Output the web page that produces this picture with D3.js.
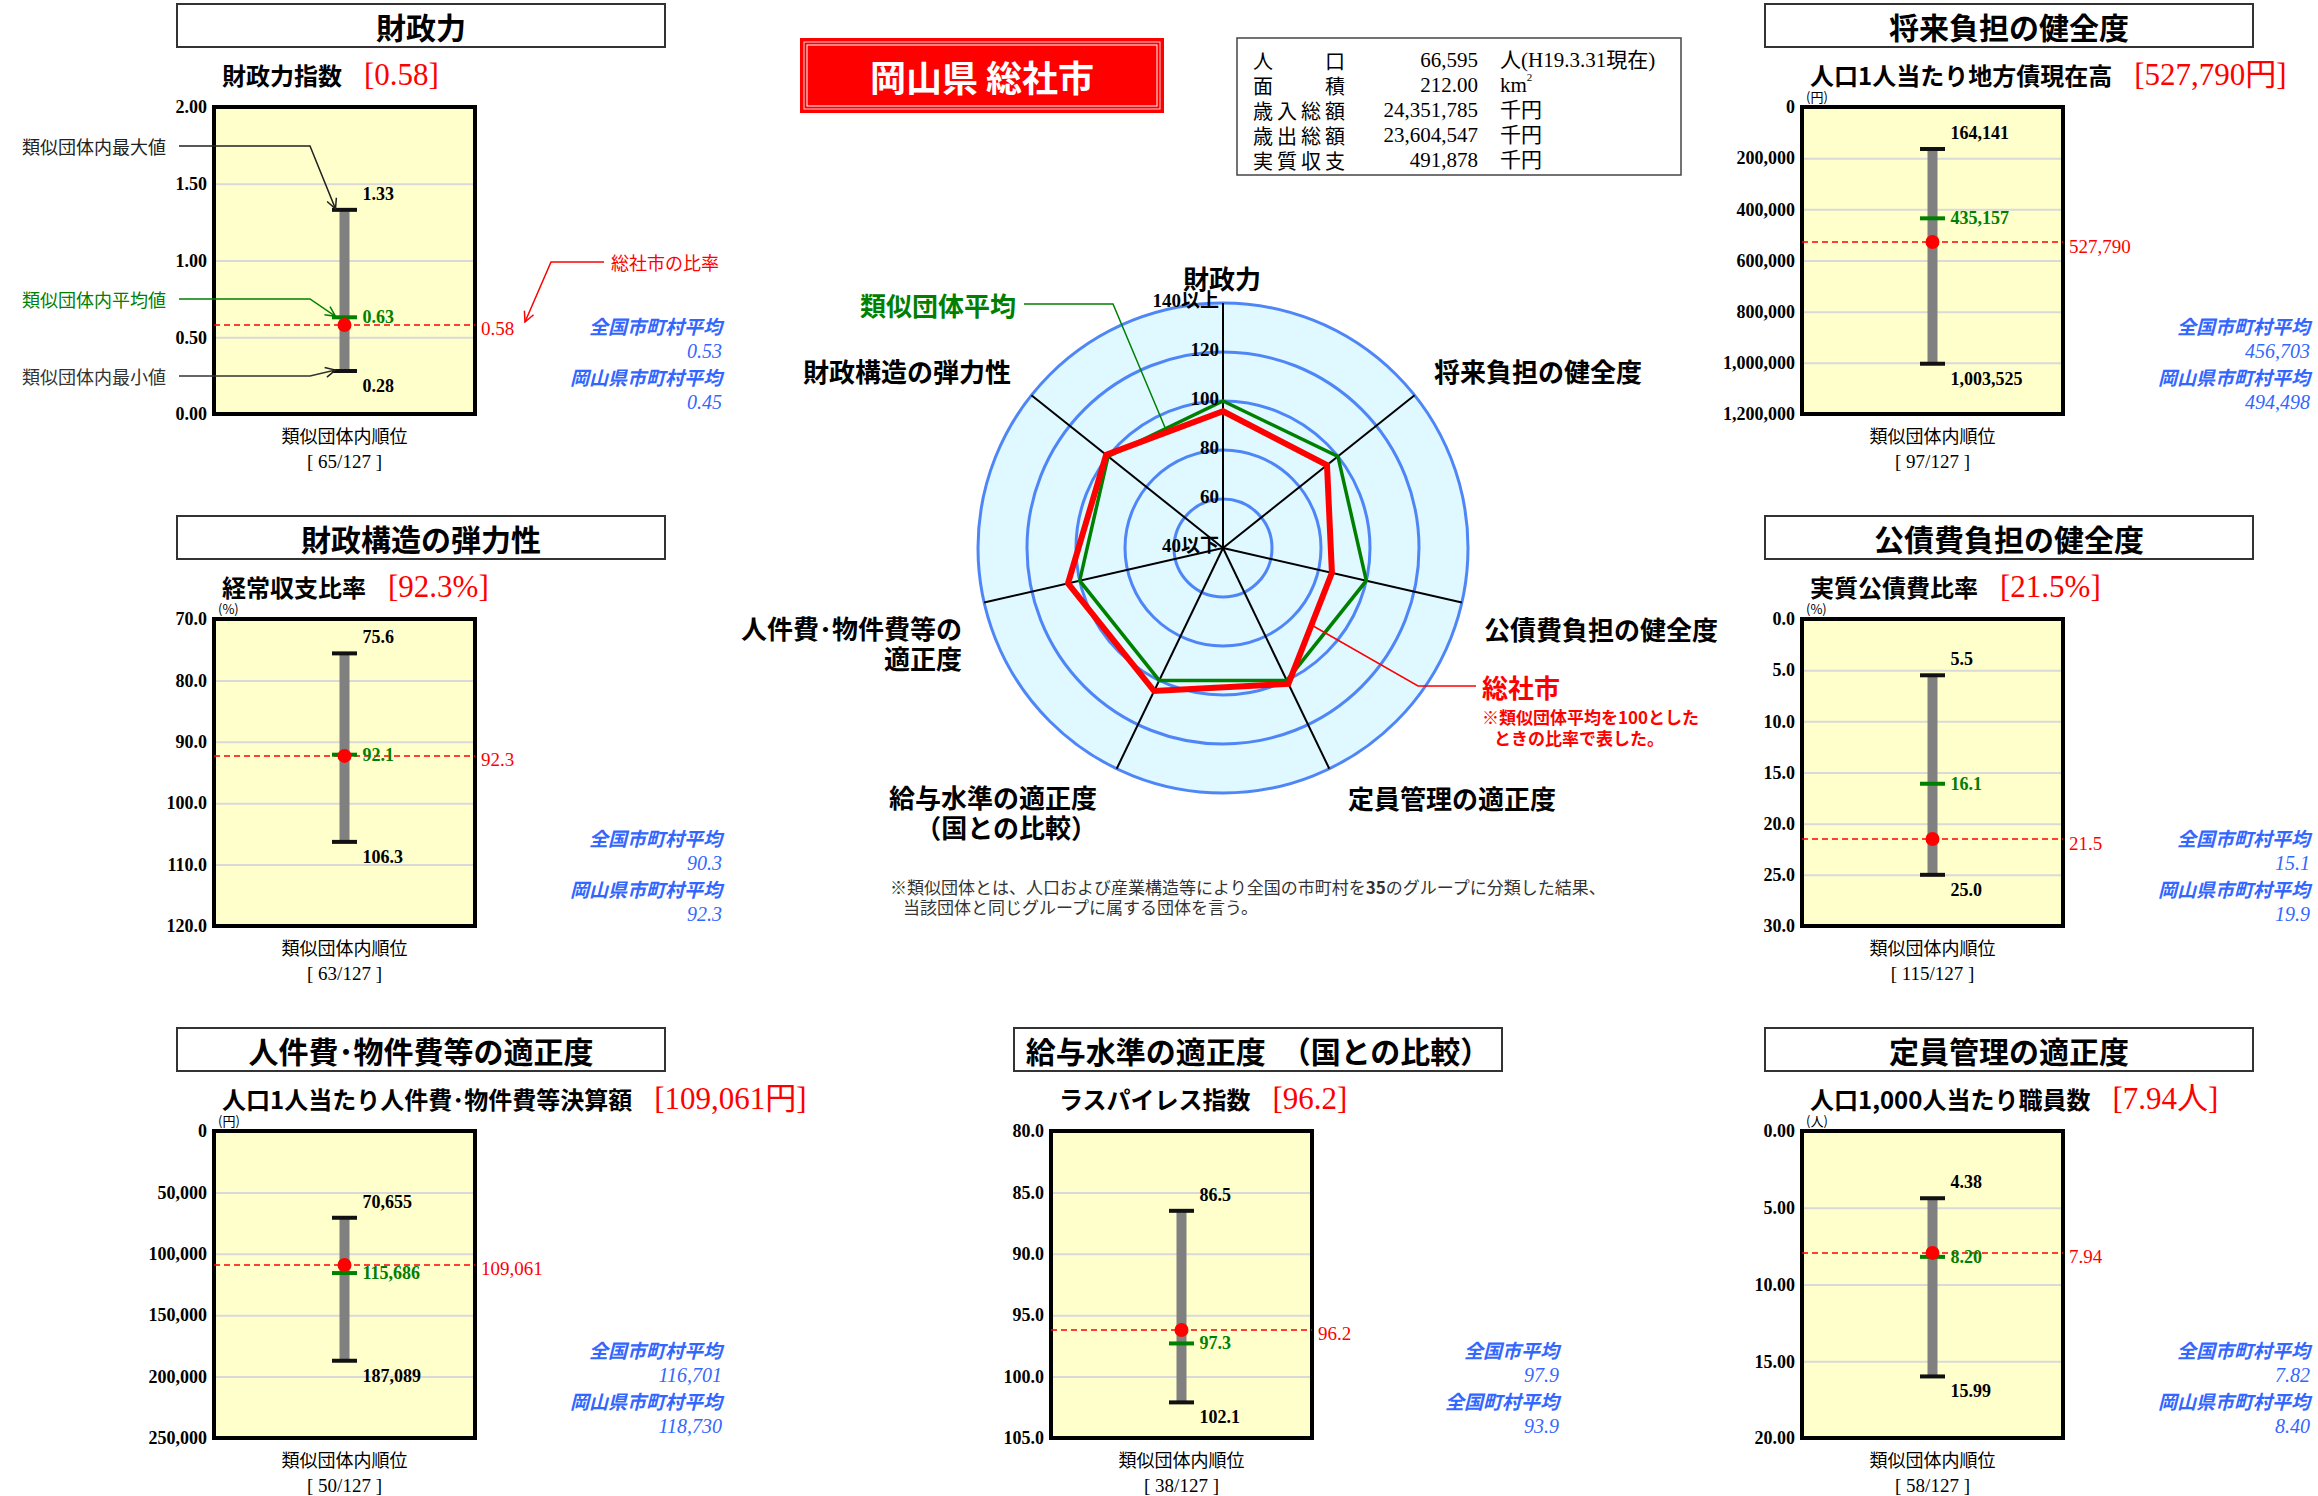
<!DOCTYPE html>
<html lang="ja">
<head>
<meta charset="UTF-8">
<title>岡山県 総社市 財政比較分析表</title>
<script src="https://d3js.org/d3.v7.min.js"></script>
<style>
  body { margin: 0; background: #fff; }
  svg { display: block; }
  .jp { font-family: "Noto Sans CJK JP", sans-serif; }
  .num { font-family: "Liberation Serif", "Noto Sans CJK JP", serif; }
</style>
</head>
<body>
<svg id="chart" width="2318" height="1496"></svg>
<script>
// ---- 各指標パネルのデータ ----
const panelTitles = ["財政力", "将来負担の健全度", "財政構造の弾力性", "公債費負担の健全度",
                     "人件費･物件費等の適正度", "給与水準の適正度　（国との比較）", "定員管理の適正度"];
const indicatorNames = ["財政力指数", "人口1人当たり地方債現在高", "経常収支比率", "実質公債費比率",
                        "人口1人当たり人件費･物件費等決算額", "ラスパイレス指数", "人口1,000人当たり職員数"];
const cityLabels = ["[0.58]", "[527,790円]", "[92.3%]", "[21.5%]", "[109,061円]", "[96.2]", "[7.94人]"];
const cityValues = [0.58, 527790, 92.3, 21.5, 109061, 96.2, 7.94];
const groupEndTop = [1.33, 164141, 75.6, 5.5, 70655, 86.5, 4.38];
const groupAvg = [0.63, 435157, 92.1, 16.1, 115686, 97.3, 8.20];
const groupEndBottom = [0.28, 1003525, 106.3, 25.0, 187089, 102.1, 15.99];
const axisDomains = [[2, 0], [0, 1200000], [70, 120], [0, 30], [0, 250000], [80, 105], [0, 20]];
const axisTicks = [
  [0, 0.5, 1, 1.5, 2],
  [0, 200000, 400000, 600000, 800000, 1000000, 1200000],
  [70, 80, 90, 100, 110, 120],
  [0, 5, 10, 15, 20, 25, 30],
  [0, 50000, 100000, 150000, 200000, 250000],
  [80, 85, 90, 95, 100, 105],
  [0, 5, 10, 15, 20]
];
const valueFormats = [".2f", ",", ".1f", ".1f", ",", ".1f", ".2f"];
const unitLabels = ["", "(円)", "(%)", "(%)", "(円)", "", "(人)"];
const rankings = ["65/127", "97/127", "63/127", "115/127", "50/127", "38/127", "58/127"];
const compareNames1 = ["全国市町村平均", "全国市町村平均", "全国市町村平均", "全国市町村平均", "全国市町村平均", "全国市平均", "全国市町村平均"];
const compareValues1 = ["0.53", "456,703", "90.3", "15.1", "116,701", "97.9", "7.82"];
const compareNames2 = ["岡山県市町村平均", "岡山県市町村平均", "岡山県市町村平均", "岡山県市町村平均", "岡山県市町村平均", "全国町村平均", "岡山県市町村平均"];
const compareValues2 = ["0.45", "494,498", "92.3", "19.9", "118,730", "93.9", "8.40"];

// ---- レーダーチャートのデータ ----
const radarAxes = [["財政力"], ["将来負担の健全度"], ["公債費負担の健全度"], ["定員管理の適正度"],
                   ["給与水準の適正度", "（国との比較）"], ["人件費･物件費等の", "適正度"], ["財政構造の弾力性"]];
const radarGroup = [100, 100, 100, 100, 100, 100, 100];
const radarCity = [95.8, 94.3, 85.6, 101.5, 104.8, 104.9, 101.0];
const radarTicks = [40, 60, 80, 100, 120, 140];
const radarTickLabels = ["40以下", "60", "80", "100", "120", "140以上"];

// ---- 基本情報 ----
const infoLabels = ["人　　口", "面　　積", "歳入総額", "歳出総額", "実質収支"];
const infoValues = ["66,595", "212.00", "24,351,785", "23,604,547", "491,878"];
const infoUnits = ["人(H19.3.31現在)", "km", "千円", "千円", "千円"];

const svg = d3.select("#chart");
const BLUE = "#3366ff", GREEN = "#008000", RED = "#ff0000";

// 矢印マーカー
const defs = svg.append("defs");
[["black", "#222"], ["green", GREEN], ["red", RED]].forEach(([id, c]) => {
  defs.append("marker")
    .attr("id", "arrow-" + id)
    .attr("viewBox", "0 0 12 12")
    .attr("refX", 11).attr("refY", 6)
    .attr("markerWidth", 12).attr("markerHeight", 12)
    .attr("markerUnits", "userSpaceOnUse")
    .attr("orient", "auto")
    .append("path")
    .attr("d", "M1,1 L11,6 L1,11")
    .attr("fill", "none").attr("stroke", c).attr("stroke-width", 1.5);
});

// ---- 各指標パネル ----
const W = 261, H = 307;
const panelLeft = [214, 1802, 214, 1802, 214, 1051, 1802];
const panelTop = [107, 107, 619, 619, 1131, 1131, 1131];

panelTitles.forEach((title, i) => {
  const x0 = panelLeft[i], y0 = panelTop[i];
  const g = svg.append("g").attr("transform", `translate(${x0},${y0})`);
  const y = d3.scaleLinear().domain(axisDomains[i]).range([0, H]);
  const fmt = d3.format(valueFormats[i]);
  const cx = W / 2;

  // 見出しボックス
  g.append("rect")
    .attr("x", -37).attr("y", -103).attr("width", 488).attr("height", 43)
    .attr("fill", "#fff").attr("stroke", "#333").attr("stroke-width", 2);
  g.append("text").attr("class", "jp")
    .attr("x", 207).attr("y", -81).attr("text-anchor", "middle")
    .attr("dominant-baseline", "central")
    .attr("font-size", 30).attr("font-weight", 700)
    .text(title);

  // 指標名と値
  const sub = g.append("text").attr("class", "jp")
    .attr("x", 8).attr("y", -33).attr("dominant-baseline", "central")
    .attr("font-size", 24).attr("font-weight", 700)
    .text(indicatorNames[i]);
  const subW = sub.node().getComputedTextLength();
  g.append("text").attr("class", "num")
    .attr("x", 8 + subW + 22).attr("y", -33).attr("dominant-baseline", "central")
    .attr("font-size", 31).attr("fill", RED)
    .text(cityLabels[i]);

  if (unitLabels[i]) {
    g.append("text").attr("class", "jp")
      .attr("x", 4).attr("y", -5).attr("font-size", 13)
      .text(unitLabels[i]);
  }

  // プロット背景
  g.append("rect").attr("width", W).attr("height", H).attr("fill", "#ffffcc");

  // グリッド線
  const inner = axisTicks[i].slice(1, -1);
  const grid = g.append("g")
    .call(d3.axisLeft(y).tickValues(inner).tickSize(-W).tickFormat(""));
  grid.select(".domain").remove();
  grid.selectAll("line").attr("stroke", "#d9d9d9").attr("stroke-width", 2);

  // 目盛ラベル
  const ax = g.append("g")
    .call(d3.axisLeft(y).tickValues(axisTicks[i]).tickSize(0).tickPadding(7)
      .tickFormat(d3.format(valueFormats[i])));
  ax.select(".domain").remove();
  ax.attr("font-family", "Liberation Serif, serif").attr("font-size", 18)
    .attr("font-weight", 700);
  ax.selectAll("text").attr("fill", "#000");

  // 枠
  g.append("rect").attr("width", W).attr("height", H)
    .attr("fill", "none").attr("stroke", "#000").attr("stroke-width", 4);

  // 当該団体の値（破線）
  const yc = y(cityValues[i]);
  g.append("line")
    .attr("x1", 0).attr("x2", W).attr("y1", yc).attr("y2", yc)
    .attr("stroke", RED).attr("stroke-width", 1.5).attr("stroke-dasharray", "6,4");
  g.append("text").attr("class", "num")
    .attr("x", W + 6).attr("y", yc + 4).attr("dominant-baseline", "central")
    .attr("font-size", 19).attr("fill", RED)
    .text(fmt(cityValues[i]));

  // 類似団体の範囲
  const yA = y(groupEndTop[i]), yB = y(groupEndBottom[i]);
  g.append("line")
    .attr("x1", cx).attr("x2", cx).attr("y1", yA).attr("y2", yB)
    .attr("stroke", "#808080").attr("stroke-width", 10);
  [yA, yB].forEach(v => {
    g.append("line")
      .attr("x1", cx - 12.5).attr("x2", cx + 12.5).attr("y1", v).attr("y2", v)
      .attr("stroke", "#111").attr("stroke-width", 4);
  });
  g.append("text").attr("class", "num")
    .attr("x", cx + 18).attr("y", Math.min(yA, yB) - 16).attr("dominant-baseline", "central")
    .attr("font-size", 18).attr("font-weight", 700)
    .text(fmt(yA < yB ? groupEndTop[i] : groupEndBottom[i]));
  g.append("text").attr("class", "num")
    .attr("x", cx + 18).attr("y", Math.max(yA, yB) + 15).attr("dominant-baseline", "central")
    .attr("font-size", 18).attr("font-weight", 700)
    .text(fmt(yA < yB ? groupEndBottom[i] : groupEndTop[i]));

  // 類似団体平均
  const ya = y(groupAvg[i]);
  g.append("line")
    .attr("x1", cx - 12.5).attr("x2", cx + 12.5).attr("y1", ya).attr("y2", ya)
    .attr("stroke", GREEN).attr("stroke-width", 4);
  g.append("text").attr("class", "num")
    .attr("x", cx + 18).attr("y", ya).attr("dominant-baseline", "central")
    .attr("font-size", 18).attr("font-weight", 700).attr("fill", GREEN)
    .text(fmt(groupAvg[i]));

  // 当該団体の点
  g.append("circle").attr("cx", cx).attr("cy", yc).attr("r", 7).attr("fill", RED);

  // 順位
  g.append("text").attr("class", "jp")
    .attr("x", cx).attr("y", H + 21).attr("text-anchor", "middle")
    .attr("dominant-baseline", "central").attr("font-size", 18)
    .text("類似団体内順位");
  g.append("text").attr("class", "num")
    .attr("x", cx).attr("y", H + 47).attr("text-anchor", "middle")
    .attr("dominant-baseline", "central").attr("font-size", 19)
    .text(`[ ${rankings[i]} ]`);

  // 全国・県平均
  const bx = 508;
  [[compareNames1[i], true], [compareValues1[i], false], [compareNames2[i], true], [compareValues2[i], false]]
    .forEach(([t, isName], k) => {
      g.append("text").attr("class", isName ? "jp" : "num")
        .attr("x", bx).attr("y", 218 + k * 25.5).attr("text-anchor", "end")
        .attr("dominant-baseline", "central")
        .attr("font-size", isName ? 19 : 20).attr("font-style", "italic")
        .attr("font-weight", isName ? 700 : 400)
        .attr("fill", BLUE)
        .text(t);
    });

  // 凡例の注記（財政力パネルのみ）
  if (i === 0) {
    const tipX = x0 + cx - 9;
    const notes = [
      ["類似団体内最大値", 146, y0 + yA, "#222", "black"],
      ["類似団体内平均値", 299, y0 + ya, GREEN, "green"],
      ["類似団体内最小値", 376, y0 + yB, "#333", "black"]
    ];
    notes.forEach(([t, ty, tipY, c, m]) => {
      svg.append("text").attr("class", "jp")
        .attr("x", 22).attr("y", ty).attr("dominant-baseline", "central")
        .attr("font-size", 18).attr("fill", c).text(t);
      svg.append("polyline")
        .attr("points", `179,${ty} 310,${ty} ${tipX},${tipY - 1}`)
        .attr("fill", "none").attr("stroke", c).attr("stroke-width", 1.5)
        .attr("marker-end", `url(#arrow-${m})`);
    });
    svg.append("text").attr("class", "jp")
      .attr("x", 611).attr("y", 262).attr("dominant-baseline", "central")
      .attr("font-size", 18).attr("fill", RED).text("総社市の比率");
    svg.append("polyline")
      .attr("points", `604,262 551,262 525,${y0 + yc - 3}`)
      .attr("fill", "none").attr("stroke", RED).attr("stroke-width", 1.5)
      .attr("marker-end", "url(#arrow-red)");
  }
});

// ---- 団体名 ----
const tb = svg.append("g").attr("transform", "translate(800,38)");
tb.append("rect").attr("width", 364).attr("height", 75).attr("fill", RED);
tb.append("rect").attr("x", 4).attr("y", 4).attr("width", 356).attr("height", 67)
  .attr("fill", "none").attr("stroke", "#ffd0d0").attr("stroke-width", 1);
tb.append("rect").attr("x", 7).attr("y", 7).attr("width", 350).attr("height", 61)
  .attr("fill", "none").attr("stroke", "#fff").attr("stroke-width", 1);
tb.append("text").attr("class", "jp")
  .attr("x", 182).attr("y", 38).attr("text-anchor", "middle")
  .attr("dominant-baseline", "central")
  .attr("font-size", 36).attr("font-weight", 700).attr("fill", "#fff")
  .text("岡山県 総社市");

// ---- 基本情報 ----
const ib = svg.append("g").attr("transform", "translate(1237,38)");
ib.append("rect").attr("width", 444).attr("height", 137)
  .attr("fill", "#fff").attr("stroke", "#444").attr("stroke-width", 1.5);
infoLabels.forEach((lab, k) => {
  const ry = 22 + k * 25;
  ib.append("text").attr("class", "jp")
    .attr("x", 16).attr("y", ry).attr("dominant-baseline", "central")
    .attr("font-size", 20).attr("textLength", 92).attr("lengthAdjust", "spacing")
    .text(lab);
  ib.append("text").attr("class", "num")
    .attr("x", 241).attr("y", ry).attr("text-anchor", "end")
    .attr("dominant-baseline", "central").attr("font-size", 21)
    .text(infoValues[k]);
  const u = ib.append("text").attr("class", "num")
    .attr("x", 263).attr("y", ry).attr("dominant-baseline", "central")
    .attr("font-size", 21).text(infoUnits[k]);
  if (infoUnits[k] === "km") {
    u.append("tspan").attr("font-size", 11).attr("dy", -8).text("2");
  }
});

// ---- レーダーチャート ----
const rc = { x: 1223, y: 548 };
const rScale = d3.scaleLinear().domain([40, 140]).range([0, 245]);
const angle = i => i * 2 * Math.PI / radarAxes.length;
const rg = svg.append("g").attr("transform", `translate(${rc.x},${rc.y})`);

rg.append("circle").attr("r", rScale(140)).attr("fill", "#e0f8ff");
rg.selectAll("circle.ring").data(radarTicks.slice(1)).join("circle")
  .attr("class", "ring").attr("r", d => rScale(d))
  .attr("fill", "none").attr("stroke", "#4f86f7").attr("stroke-width", 3);

rg.selectAll("line.spoke").data(radarAxes).join("line")
  .attr("class", "spoke")
  .attr("x1", 0).attr("y1", 0)
  .attr("x2", (d, i) => rScale(140) * Math.sin(angle(i)))
  .attr("y2", (d, i) => -rScale(140) * Math.cos(angle(i)))
  .attr("stroke", "#000").attr("stroke-width", 2);

const radial = d3.lineRadial()
  .angle((d, i) => angle(i))
  .radius(d => rScale(d))
  .curve(d3.curveLinearClosed);
rg.append("path").attr("d", radial(radarGroup))
  .attr("fill", "none").attr("stroke", GREEN).attr("stroke-width", 3.5)
  .attr("stroke-linejoin", "miter");
rg.append("path").attr("d", radial(radarCity))
  .attr("fill", "none").attr("stroke", RED).attr("stroke-width", 6)
  .attr("stroke-linejoin", "miter");

rg.selectAll("text.rtick").data(radarTicks).join("text")
  .attr("class", "rtick num")
  .attr("x", -4).attr("y", d => -rScale(d) - 3)
  .attr("text-anchor", "end").attr("dominant-baseline", "central")
  .attr("font-size", 19).attr("font-weight", 700)
  .text((d, i) => radarTickLabels[i]);

const radarLabelPos = [[1222, 277, "middle"], [1434, 370, "start"], [1484, 628, "start"],
                       [1348, 797, "start"], [1097, 796, "end"], [962, 627, "end"], [1011, 370, "end"]];
radarAxes.forEach((lines, i) => {
  const [lx, ly, anchor] = radarLabelPos[i];
  lines.forEach((t, k) => {
    svg.append("text").attr("class", "jp")
      .attr("x", lx).attr("y", ly + k * 30).attr("text-anchor", anchor)
      .attr("dominant-baseline", "central")
      .attr("font-size", 26).attr("font-weight", 700)
      .text(t);
  });
});

// 凡例の引き出し線
const vertex = (vals, i) => [rc.x + rScale(vals[i]) * Math.sin(angle(i)), rc.y - rScale(vals[i]) * Math.cos(angle(i))];
const mid = (a, b, t) => [a[0] + (b[0] - a[0]) * t, a[1] + (b[1] - a[1]) * t];
const gp = mid(vertex(radarGroup, 0), vertex(radarGroup, 6), 0.5);
svg.append("text").attr("class", "jp")
  .attr("x", 860).attr("y", 304).attr("dominant-baseline", "central")
  .attr("font-size", 26).attr("font-weight", 700).attr("fill", GREEN)
  .text("類似団体平均");
svg.append("polyline")
  .attr("points", `1024,304 1113,304 ${gp[0]},${gp[1]}`)
  .attr("fill", "none").attr("stroke", GREEN).attr("stroke-width", 1.5);

const cp = mid(vertex(radarCity, 2), vertex(radarCity, 3), 0.47);
svg.append("polyline")
  .attr("points", `${cp[0]},${cp[1]} 1418,686 1476,686`)
  .attr("fill", "none").attr("stroke", RED).attr("stroke-width", 1.5);
svg.append("text").attr("class", "jp")
  .attr("x", 1482).attr("y", 686).attr("dominant-baseline", "central")
  .attr("font-size", 26).attr("font-weight", 700).attr("fill", RED)
  .text("総社市");
svg.append("text").attr("class", "jp")
  .attr("x", 1482).attr("y", 716).attr("dominant-baseline", "central")
  .attr("font-size", 17).attr("font-weight", 700).attr("fill", RED)
  .text("※類似団体平均を100とした");
svg.append("text").attr("class", "jp")
  .attr("x", 1494).attr("y", 737).attr("dominant-baseline", "central")
  .attr("font-size", 17).attr("font-weight", 700).attr("fill", RED)
  .text("ときの比率で表した。");

// 注記
const note = svg.append("text").attr("class", "jp")
  .attr("x", 890).attr("y", 886).attr("dominant-baseline", "central")
  .attr("font-size", 17).attr("fill", "#333");
note.append("tspan").text("※類似団体とは、人口および産業構造等により全国の市町村を");
note.append("tspan").attr("font-weight", 700).text("35");
note.append("tspan").text("のグループに分類した結果、");
svg.append("text").attr("class", "jp")
  .attr("x", 903).attr("y", 906).attr("dominant-baseline", "central")
  .attr("font-size", 17).attr("fill", "#333")
  .text("当該団体と同じグループに属する団体を言う。");
</script>
</body>
</html>
